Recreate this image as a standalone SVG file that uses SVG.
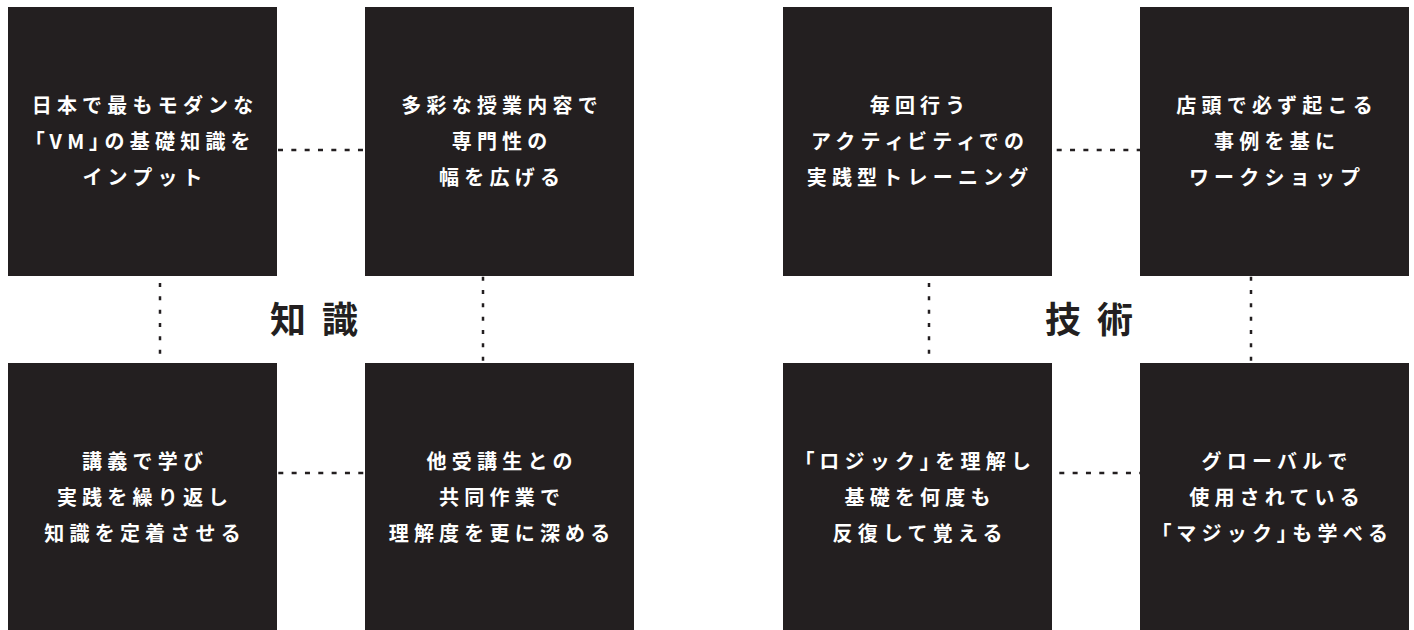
<svg xmlns="http://www.w3.org/2000/svg" width="1414" height="630" viewBox="0 0 1414 630">
<style>
.box{fill:#231f20}
.t{fill:#ffffff;font-family:"Noto Sans CJK JP","Noto Sans CJK SC",sans-serif;font-weight:700;font-size:20px;letter-spacing:5.2px;text-anchor:middle}
.p{font-feature-settings:"palt" 1}
.h{fill:#231f20;font-family:"Noto Sans CJK JP","Noto Sans CJK SC",sans-serif;font-weight:700;font-size:36px;letter-spacing:16px;text-anchor:middle}
.dh{stroke:#231f20;stroke-width:2.5;stroke-dasharray:5 8.33;fill:none}
.dv{stroke:#231f20;stroke-width:2.5;stroke-dasharray:4 9.33;fill:none}
</style>
<rect width="1414" height="630" fill="#ffffff"/>
<g id="connectors">
<line class="dh" x1="278" y1="150" x2="365" y2="150"/>
<line class="dh" x1="1056.7" y1="150" x2="1140" y2="150"/>
<line class="dh" x1="278.3" y1="473" x2="365" y2="473"/>
<line class="dh" x1="1059.3" y1="473" x2="1140" y2="473"/>
<line class="dv" x1="160" y1="283" x2="160" y2="363"/>
<line class="dv" x1="483" y1="276.7" x2="483" y2="363"/>
<line class="dv" x1="929" y1="283" x2="929" y2="363"/>
<line class="dv" x1="1251" y1="276.7" x2="1251" y2="363"/>
</g>
<g id="label-knowledge"><text class="h" x="322" y="333">知識</text></g>
<g id="label-skill"><text class="h" x="1097" y="333">技術</text></g>
<g id="node1">
<rect class="box" x="8" y="7" width="269" height="269"/>
<text class="t" x="145.1" y="113">日本で最もモダンな</text>
<text class="t" x="145.1" y="149"><tspan class="p">「</tspan>VM<tspan class="p">」</tspan>の基礎知識を</text>
<text class="t" x="145.1" y="185">インプット</text>
</g>
<g id="node2">
<rect class="box" x="365" y="7" width="269" height="269"/>
<text class="t" x="502.1" y="113">多彩な授業内容で</text>
<text class="t" x="502.1" y="149">専門性の</text>
<text class="t" x="502.1" y="185">幅を広げる</text>
</g>
<g id="node3">
<rect class="box" x="8" y="363" width="269" height="267"/>
<text class="t" x="145.1" y="469">講義で学び</text>
<text class="t" x="145.1" y="505">実践を繰り返し</text>
<text class="t" x="145.1" y="541">知識を定着させる</text>
</g>
<g id="node4">
<rect class="box" x="365" y="363" width="269" height="267"/>
<text class="t" x="502.1" y="469">他受講生との</text>
<text class="t" x="502.1" y="505">共同作業で</text>
<text class="t" x="502.1" y="541">理解度を更に深める</text>
</g>
<g id="node5">
<rect class="box" x="783" y="7" width="269" height="269"/>
<text class="t" x="920.1" y="113">毎回行う</text>
<text class="t" x="920.1" y="149">アクテ<tspan class="p">ィ</tspan>ビテ<tspan class="p">ィ</tspan>での</text>
<text class="t" x="920.1" y="185">実践型トレーニング</text>
</g>
<g id="node6">
<rect class="box" x="1140" y="7" width="269" height="269"/>
<text class="t" x="1277.1" y="113">店頭で必ず起こる</text>
<text class="t" x="1277.1" y="149">事例を基に</text>
<text class="t" x="1277.1" y="185">ワークショップ</text>
</g>
<g id="node7">
<rect class="box" x="783" y="363" width="269" height="267"/>
<text class="t" x="920.1" y="469"><tspan class="p">「</tspan>ロジック<tspan class="p">」</tspan>を理解し</text>
<text class="t" x="920.1" y="505">基礎を何度も</text>
<text class="t" x="920.1" y="541">反復して覚える</text>
</g>
<g id="node8">
<rect class="box" x="1140" y="363" width="269" height="267"/>
<text class="t" x="1277.1" y="469">グローバルで</text>
<text class="t" x="1277.1" y="505">使用されている</text>
<text class="t" x="1277.1" y="541"><tspan class="p">「</tspan>マジック<tspan class="p">」</tspan>も学べる</text>
</g>
</svg>
